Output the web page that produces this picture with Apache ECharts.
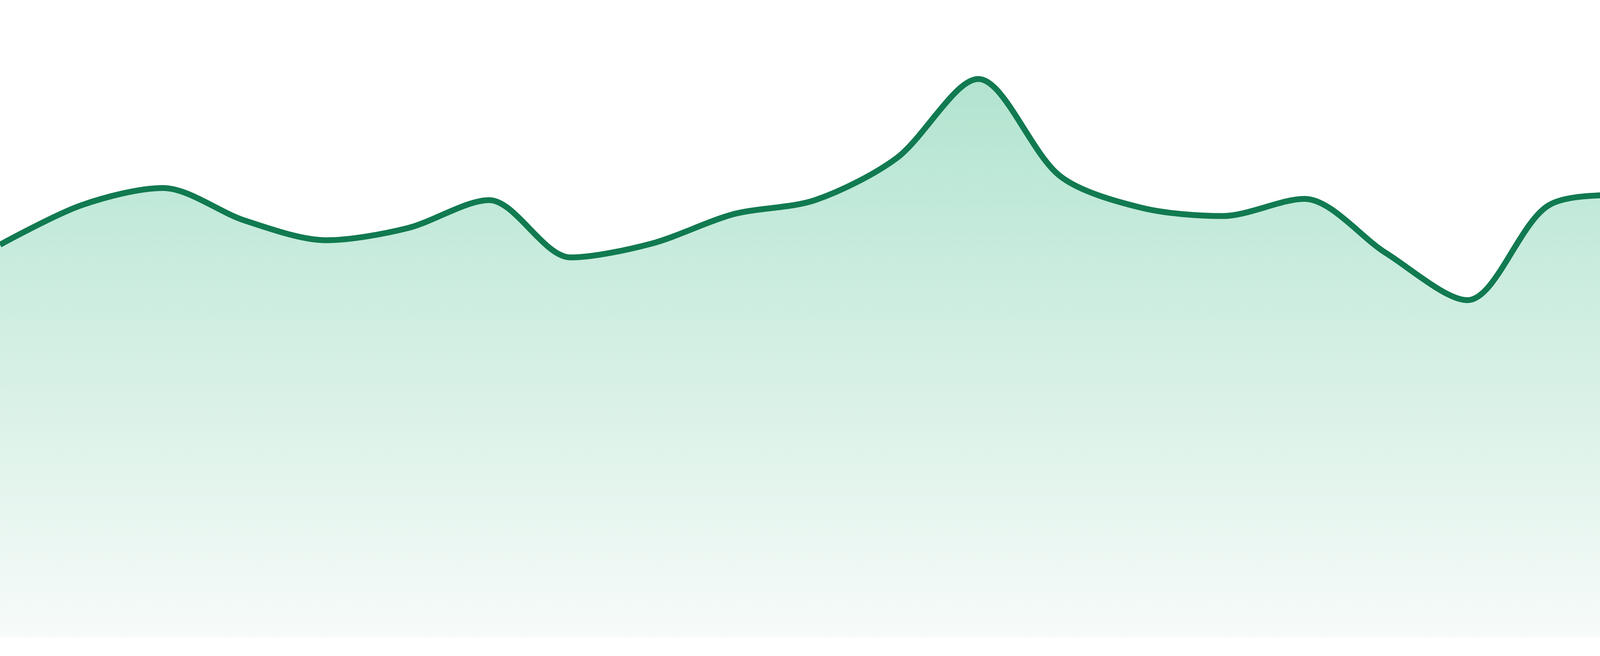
<!DOCTYPE html>
<html>
<head>
<meta charset="utf-8">
<script src="https://cdn.jsdelivr.net/npm/echarts@6/dist/echarts.min.js"></script>
<style>
  html, body { margin: 0; padding: 0; background: #ffffff; }
  #chart { width: 4800px; height: 1680px; }
</style>
</head>
<body>
<div id="chart"></div>
<script>
// Categories (24 evenly spaced points, unlabeled in the reference)
const categories = ['1','2','3','4','5','6','7','8','9','10','11','12','13','14','15','16','17','18','19','20','21','22','23','24'];
// Series values (axis 0-100, hidden)
const values = [61.6, 67.8, 70.5, 65.4, 62.3, 64.2, 68.6, 59.6, 61.8, 66.4, 68.6, 75.2,
                87.6, 72.4, 67.4, 66.1, 68.8, 60.3, 52.9, 67.8, 69.6, 70.3, 65.9, 70.2];
const yMin = 0;
const yMax = 100;

const chart = echarts.init(document.getElementById('chart'), null, { renderer: 'canvas', devicePixelRatio: 1 });
chart.setOption({
  animation: false,
  backgroundColor: '#ffffff',
  grid: { left: 0, right: 0, top: 0, bottom: 48, containLabel: false },
  xAxis: {
    type: 'category',
    data: categories,
    boundaryGap: false,
    show: false
  },
  yAxis: {
    type: 'value',
    min: yMin,
    max: yMax,
    show: false,
    splitLine: { show: false }
  },
  series: [{
    type: 'line',
    data: values,
    smooth: 0.3,
    symbol: 'none',
    lineStyle: { color: '#117a50', width: 15 },
    itemStyle: { color: '#117a50' },
    areaStyle: {
      opacity: 1,
      color: {
        type: 'linear', x: 0, y: 0, x2: 0, y2: 1,
        colorStops: [
          { offset: 0, color: '#b2e4d0' },
          { offset: 1, color: '#f7fbf9' }
        ]
      }
    }
  }]
});
</script>
</body>
</html>
